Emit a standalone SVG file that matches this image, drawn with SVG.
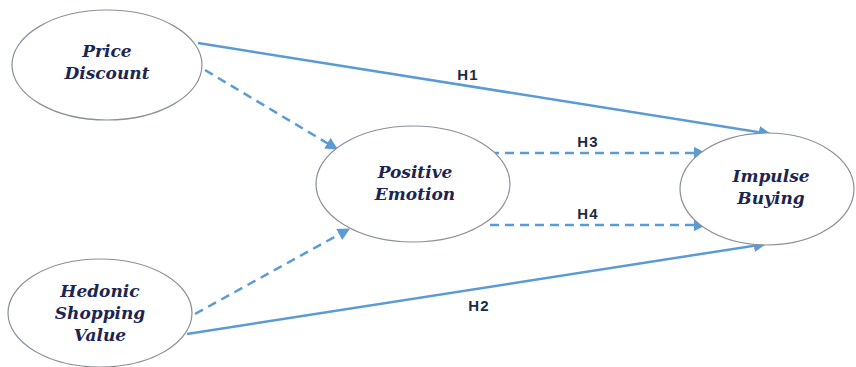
<svg xmlns="http://www.w3.org/2000/svg" width="856" height="367" viewBox="0 0 856 367">
<style>
.node ellipse{fill:#fff;stroke:#8a8f99;stroke-width:1.2}
.nt{font-family:"DejaVu Serif",serif;font-weight:bold;font-style:italic;font-size:17px;fill:#1c2552;text-anchor:middle}
.edge{stroke:#5b9bd5;stroke-width:2.5;fill:none}
.dash{stroke-dasharray:9,6}
.lbl{font-family:"Liberation Sans",sans-serif;font-weight:bold;font-size:15px;letter-spacing:1.2px;fill:#1c2a44;text-anchor:middle}
</style>
<defs>
<marker id="ah" viewBox="0 0 10 10" refX="9" refY="5" markerWidth="5" markerHeight="5" orient="auto" markerUnits="strokeWidth">
<path d="M0,0 L10,5 L0,10 z" fill="#5b9bd5"/>
</marker>
</defs>
<rect width="856" height="367" fill="#fff"/>
<g id="connectors">
<line class="edge" x1="198" y1="43" x2="770" y2="134" marker-end="url(#ah)"/>
<line class="edge dash" x1="205" y1="70" x2="337" y2="149" marker-end="url(#ah)"/>
<line class="edge dash" x1="195" y1="314" x2="349" y2="229" marker-end="url(#ah)"/>
<line class="edge" x1="187" y1="334" x2="765" y2="244" marker-end="url(#ah)"/>
<line class="edge dash" x1="490" y1="153" x2="705" y2="153" marker-end="url(#ah)"/>
<line class="edge dash" x1="490" y1="225" x2="705" y2="225" marker-end="url(#ah)"/>
<text class="lbl" x="468" y="80">H1</text>
<text class="lbl" x="588" y="147">H3</text>
<text class="lbl" x="588" y="219">H4</text>
<text class="lbl" x="479" y="311">H2</text>
</g>
<g id="price-discount" class="node">
<ellipse cx="107" cy="65" rx="95" ry="55"/>
<text class="nt" x="107" y="57">Price</text>
<text class="nt" x="107" y="79">Discount</text>
</g>
<g id="positive-emotion" class="node">
<ellipse cx="413" cy="184" rx="97" ry="58"/>
<text class="nt" x="415" y="178">Positive</text>
<text class="nt" x="415" y="200">Emotion</text>
</g>
<g id="impulse-buying" class="node">
<ellipse cx="767" cy="189" rx="87" ry="56"/>
<text class="nt" x="771" y="182">Impulse</text>
<text class="nt" x="771" y="204">Buying</text>
</g>
<g id="hedonic-shopping-value" class="node">
<ellipse cx="100" cy="313" rx="92" ry="54"/>
<text class="nt" x="100" y="297">Hedonic</text>
<text class="nt" x="100" y="319">Shopping</text>
<text class="nt" x="100" y="341">Value</text>
</g>
</svg>
